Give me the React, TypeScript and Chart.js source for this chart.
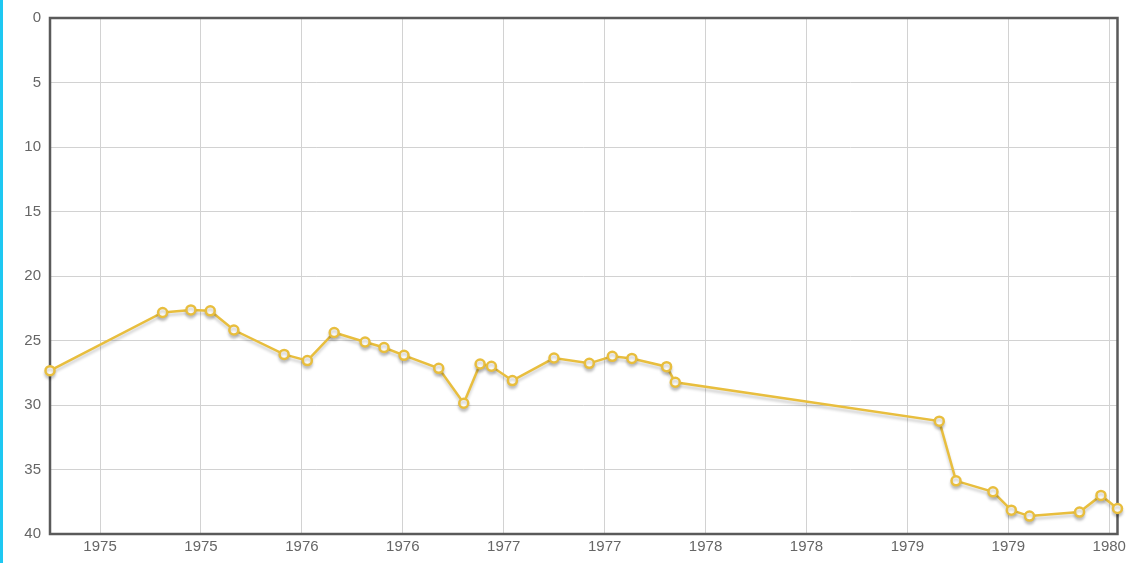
import React, { useEffect, useRef } from "react";
import { Chart, registerables } from "chart.js";

Chart.register(...registerables);

// Decimal year positions of each observation
const xValues: number[] = [
  1974.752, 1975.31, 1975.45, 1975.546, 1975.663, 1975.912, 1976.027, 1976.16,
  1976.313, 1976.407, 1976.506, 1976.678, 1976.802, 1976.883, 1976.939, 1977.043,
  1977.249, 1977.424, 1977.538, 1977.635, 1977.807, 1977.85, 1979.158, 1979.241,
  1979.424, 1979.515, 1979.605, 1979.853, 1979.959, 1980.041,
];

const yValues: number[] = [
  27.34, 22.83, 22.63, 22.7, 24.19, 26.08, 26.56, 24.38,
  25.12, 25.54, 26.15, 27.16, 29.86, 26.82, 27.0, 28.11,
  26.36, 26.77, 26.23, 26.39, 27.03, 28.24, 31.25, 35.88,
  36.73, 38.15, 38.61, 38.3, 37.01, 38.02,
];

const xTickValues: number[] = [1975, 1975.5, 1976, 1976.5, 1977, 1977.5, 1978, 1978.5, 1979, 1979.5, 1980];
const xTickLabels: string[] = ["1975", "1975", "1976", "1976", "1977", "1977", "1978", "1978", "1979", "1979", "1980"];

const yMin = 0;
const yMax = 40;
const yStep = 5;

export default function App() {
  const ref = useRef<HTMLCanvasElement>(null);

  useEffect(() => {
    document.body.style.margin = "0";
    if (!ref.current) return;

    const shadowPlugin = {
      id: "lineShadow",
      beforeDatasetDraw(chart: any) {
        const ctx = chart.ctx;
        ctx.save();
        ctx.shadowColor = "rgba(0,0,0,0.2)";
        ctx.shadowBlur = 3;
        ctx.shadowOffsetX = 0;
        ctx.shadowOffsetY = 3;
      },
      afterDatasetDraw(chart: any) {
        chart.ctx.restore();
      },
    };

    const borderPlugin = {
      id: "frame",
      beforeDatasetsDraw(chart: any) {
        const { ctx, chartArea } = chart;
        ctx.save();
        ctx.strokeStyle = "#5a5a5a";
        ctx.lineWidth = 2.5;
        ctx.strokeRect(chartArea.left, chartArea.top, chartArea.right - chartArea.left, chartArea.bottom - chartArea.top);
        ctx.restore();
      },
    };

    const chart = new Chart(ref.current, {
      type: "line",
      data: {
        datasets: [
          {
            data: xValues.map((x, i) => ({ x, y: yValues[i] })),
            borderColor: "#e8be3e",
            borderWidth: 2.5,
            backgroundColor: "#ffffff",
            pointBackgroundColor: "#ffffff",
            pointBorderColor: "#e8be3e",
            pointBorderWidth: 2.5,
            pointRadius: 4.5,
            tension: 0,
            fill: false,
            clip: false as any,
          },
        ],
      },
      options: {
        animation: false,
        responsive: false,
        maintainAspectRatio: false,
        layout: { padding: { top: 16, right: 12, left: 0, bottom: 0 } },
        plugins: { legend: { display: false }, tooltip: { enabled: false } },
        scales: {
          x: {
            type: "linear",
            min: xValues[0],
            max: xValues[xValues.length - 1],
            afterBuildTicks(scale: any) {
              scale.ticks = xTickValues.map((v) => ({ value: v }));
            },
            afterFit(scale: any) {
              scale.height = 29;
            },
            ticks: {
              callback: (_v: any, i: number) => xTickLabels[i],
              color: "#666",
              font: { family: "'Liberation Sans', Arial, sans-serif", size: 15 },
              maxRotation: 0,
              autoSkip: false,
              padding: 4,
            },
            grid: { color: "#d2d2d2", lineWidth: 1, drawTicks: false },
            border: { display: false },
          },
          y: {
            reverse: true,
            min: yMin,
            max: yMax,
            afterFit(scale: any) {
              scale.width = 47;
            },
            ticks: {
              stepSize: yStep,
              color: "#666",
              font: { family: "'Liberation Sans', Arial, sans-serif", size: 15 },
              padding: 9,
            },
            grid: { color: "#d2d2d2", lineWidth: 1, drawTicks: false },
            border: { display: false },
          },
        },
      },
      plugins: [borderPlugin, shadowPlugin],
    });
    return () => chart.destroy();
  }, []);

  return (
    <div
      style={{
        position: "absolute",
        left: 0,
        top: 0,
        width: 1130,
        height: 563,
        borderLeft: "3px solid #1ec8f2",
        boxSizing: "border-box",
        background: "#fff",
      }}
    >
      <canvas ref={ref} width={1127} height={563} style={{ display: "block" }} />
    </div>
  );
}
